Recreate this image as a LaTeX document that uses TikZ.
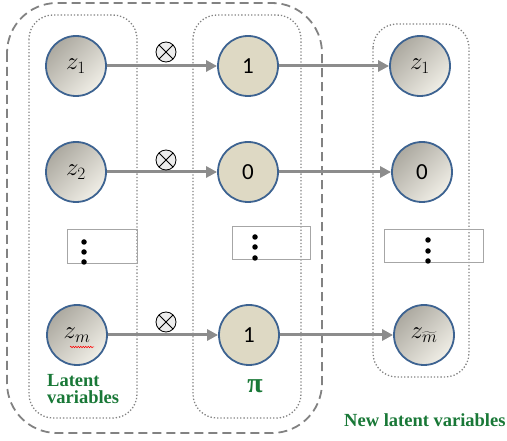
\documentclass[tikz,border=0pt]{standalone}
\usepackage{fontspec}
\setmainfont{Liberation Serif}
\newfontfamily\numfont{Carlito}
\usetikzlibrary{arrows.meta,decorations.pathmorphing}
\definecolor{bord}{RGB}{61,99,145}
\definecolor{gdark}{RGB}{172,169,160}
\definecolor{gmid}{RGB}{212,210,201}
\definecolor{glight}{RGB}{240,238,230}
\definecolor{beige}{RGB}{222,217,196}
\definecolor{arrgray}{RGB}{140,140,140}
\definecolor{boxgray}{RGB}{130,130,130}
\definecolor{lgreen}{RGB}{25,120,55}
\tikzset{
  lat/.style={circle, draw=bord, line width=1.8pt, minimum size=60pt, inner sep=0pt,
    top color=gdark, middle color=gmid, bottom color=glight, shading angle=45},
  pinode/.style={circle, draw=bord, line width=1.8pt, minimum size=60pt, inner sep=0pt, fill=beige},
  conn/.style={draw=arrgray, line width=3pt, -{Triangle[length=11pt,width=11pt]}},
  otim/.style={circle, draw=black, line width=0.8pt, fill=black!7, minimum size=20pt, inner sep=0pt,
    path picture={\draw[line width=0.8pt] (path picture bounding box.north west) -- (path picture bounding box.south east)
      (path picture bounding box.north east) -- (path picture bounding box.south west);}},
  dotbox/.style={draw=boxgray, dotted, line width=1.3pt, rounded corners=24pt},
  dashbox/.style={draw=boxgray, line width=1.8pt, dash pattern=on 9pt off 5pt, rounded corners=50pt},
  ellbox/.style={draw=black!35, line width=0.6pt},
  bigdot/.style={circle, fill=black, minimum size=5.5pt, inner sep=0pt},
  zt/.style={font=\fontsize{25}{28}\selectfont},
  nt/.style={font=\numfont\fontsize{23}{26}\selectfont},
  lab/.style={text=lgreen, font=\bfseries\fontsize{18.5}{17}\selectfont, inner sep=0pt}
}
\begin{document}
\begin{tikzpicture}[x=1pt,y=-1pt]
\useasboundingbox (0,0) rectangle (507,441);
% boxes
\draw[dashbox] (7,3) rectangle (322,433);
\draw[dotbox] (29,15) rectangle (137,418);
\draw[dotbox] (193,15) rectangle (301,418);
\draw[dotbox] (373,24) rectangle (469,377);
% ellipsis boxes
\draw[ellbox] (67,229) rectangle (137,263);
\draw[ellbox] (232,226) rectangle (310,259);
\draw[ellbox] (384,229) rectangle (483,262);
\node[bigdot] (d1a) at (84,242) {};
\node[bigdot] (d1b) at (84,252) {};
\node[bigdot] (d1c) at (84,262) {};
\node[bigdot] (d2a) at (255,237) {};
\node[bigdot] (d2b) at (255,247) {};
\node[bigdot] (d2c) at (255,258) {};
\node[bigdot] (d3a) at (428,240) {};
\node[bigdot] (d3b) at (428,251) {};
\node[bigdot] (d3c) at (428,261) {};
% nodes
\node[lat,zt] (z1) at (76,66) {$z_1$};
\node[lat,zt] (z2) at (76,172) {$z_2$};
\node[lat,zt] (zm) at (77,335) {$z_m$};
\node[pinode,nt] (p1) at (248,66) {1};
\node[pinode,nt] (p2) at (248,172) {0};
\node[pinode,nt] (p3) at (249,335) {1};
\node[lat,zt] (r1) at (420,66) {$z_1$};
\node[lat,nt] (r2) at (422,172) {0};
\node[lat,zt] (r3) at (424,335) {$z_{\widetilde{m}}$};
% spell-check underline
\coordinate (wa) at (70,347);
\coordinate (wb) at (94,347);
\draw[red, line width=0.5pt, decorate, decoration={snake, amplitude=0.8pt, segment length=2.5pt}] (wa) -- (wb);
% connectors
\draw[conn] (z1) -- (p1);
\draw[conn] (z2) -- (p2);
\draw[conn] (zm) -- (p3);
\draw[conn] (p1) -- (r1);
\draw[conn] (p2) -- (r2);
\draw[conn] (p3) -- (r3);
% otimes
\node[otim] (o1) at (166,52) {};
\node[otim] (o2) at (166,160) {};
\node[otim] (o3) at (166,322) {};
% labels
\node[lab, align=left, anchor=north west] (latlab) at (47,374) {Latent\\variables};
\node[lab, anchor=base, font=\bfseries\fontsize{28}{30}\selectfont] (pilab) at (255,392) {π};
\node[lab, anchor=base west] (newlab) at (344,427) {New latent variables};
\end{tikzpicture}
\end{document}
